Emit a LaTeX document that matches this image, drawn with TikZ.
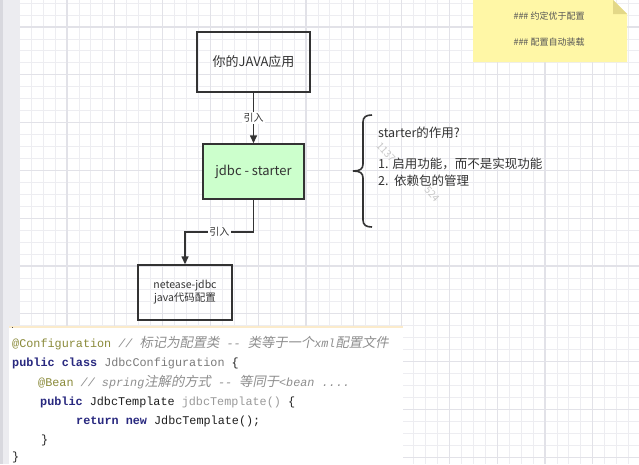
\documentclass[tikz,border=0pt]{standalone}
\usepackage{fontspec}
\setmainfont{Noto Sans CJK SC}
\newfontfamily\codefont{Liberation Mono}
\newfontfamily\cjkit[FakeSlant=0.2]{Noto Sans CJK SC}
\usetikzlibrary{arrows.meta}
\definecolor{gridminor}{HTML}{EDEDF1}
\definecolor{gridmajor}{HTML}{E2E2E8}
\definecolor{strip}{HTML}{ECECF0}
\definecolor{stripdark}{HTML}{D8D8DE}
\definecolor{boxline}{HTML}{333333}
\definecolor{txt}{HTML}{333333}
\definecolor{greenfill}{HTML}{CCFFCC}
\definecolor{notefill}{HTML}{FFF7A6}
\definecolor{notefold}{HTML}{E3D888}
\definecolor{notetxt}{HTML}{555555}
\definecolor{kwc}{HTML}{28287F}
\definecolor{annc}{HTML}{8A8A3A}
\definecolor{cmc}{HTML}{8E8E8E}
\definecolor{idc}{HTML}{7A7A7A}
\definecolor{gry}{HTML}{9A9A9A}
\definecolor{codebg}{HTML}{FFFFFF}
\definecolor{codetop}{HTML}{FBEBCB}
\newcommand\kw[1]{{\color{kwc}\bfseries #1}}
\newcommand\ann[1]{{\color{annc}#1}}
\newcommand\cm[1]{{\color{cmc}\itshape #1}}
\newcommand\cz[1]{{\cjkit\fontsize{13.3}{14}\selectfont #1}}
\tikzset{
  box/.style={draw=boxline, line width=1.4pt, text=txt, font=\fontsize{13}{15}\selectfont, inner sep=2pt},
  arr/.style={draw=boxline, line width=1.4pt, -{Triangle[length=8pt,width=7pt]}},
  plain/.style={draw=boxline, line width=1.4pt},
  lbl/.style={fill=white, text=txt, font=\fontsize{10}{12}\selectfont, inner sep=1.5pt},
  code/.style={anchor=west, inner sep=0pt, font=\codefont\fontsize{11.8}{13}\selectfont, text=black!88},
  side/.style={anchor=west, inner sep=0pt, text=txt, font=\fontsize{12.5}{14}\selectfont},
  notetext/.style={text=notetxt, font=\fontsize{9}{11}\selectfont, inner sep=0pt},
  wm/.style={text=black!22, font=\fontsize{10}{11}\selectfont, inner sep=0pt, rotate=-48}
}
\begin{document}
\begin{tikzpicture}[x=1pt,y=-1pt]
\useasboundingbox (0,0) rectangle (639,464);
\fill[white] (0,0) rectangle (639,464);
% left strip
\fill[strip] (0,0) rectangle (20,464);
\fill[stripdark] (0,0) rectangle (3,464);
% grid
\foreach \i in {-4,...,48} {
  \pgfmathsetmacro\gx{67+11.95*\i}
  \ifdim\gx pt>20pt \ifdim\gx pt<639pt
    \draw[gridminor, line width=0.9pt] (\gx,0) -- (\gx,464);
  \fi\fi
}
\foreach \i in {-2,...,37} {
  \pgfmathsetmacro\gy{27+11.95*\i}
  \ifdim\gy pt>0pt \ifdim\gy pt<464pt
    \draw[gridminor, line width=0.9pt] (20,\gy) -- (639,\gy);
  \fi\fi
}
\foreach \i in {-1,...,12} {
  \pgfmathsetmacro\gx{67+47.8*\i}
  \ifdim\gx pt>20pt \ifdim\gx pt<639pt
    \draw[gridmajor, line width=1.1pt] (\gx,0) -- (\gx,464);
  \fi\fi
}
\foreach \i in {0,...,9} {
  \pgfmathsetmacro\gy{27+47.8*\i}
  \ifdim\gy pt<464pt
    \draw[gridmajor, line width=1.1pt] (20,\gy) -- (639,\gy);
  \fi
}
% sticky note
\fill[notefill] (473,0) -- (613,0) -- (627,14) -- (627,62) -- (473,62) -- cycle;
\fill[notefold] (613,0) -- (627,14) -- (613,14) -- cycle;
\node[notetext] (n1) at (549,16) {\#\#\# 约定优于配置};
\node[notetext] (n2) at (549,42) {\#\#\# 配置自动装载};
% boxes
\node[box, minimum width=113pt, minimum height=60pt] (app) at (253.5,62) {你的JAVA应用};
\node[box, fill=greenfill, minimum width=101pt, minimum height=55pt] (starter) at (253.5,171.5) {jdbc - starter};
\node[box, minimum width=94pt, minimum height=55pt, align=center, font=\fontsize{10.5}{13}\selectfont] (netease) at (185,292.5) {netease-jdbc\\java代码配置};
% connectors
\draw[arr] (app.south) -- node[lbl] {引入} (starter.north);
\coordinate (b1) at (253.5,232);
\coordinate (b2) at (185,232);
\draw[arr] (starter.south) -- (b1) -- node[lbl] {引入} (b2) -- (netease.north);
% brace
\draw[plain, line width=1.6pt] (372,115) .. controls (366,115) and (363,117) .. (363,122) -- (363,164)
  .. controls (363,169) and (360,171) .. (353,171)
  .. controls (360,171) and (363,173) .. (363,178) -- (363,220)
  .. controls (363,225) and (366,227) .. (372,227);
\node[wm] (w1) at (386,152) {1137};
\node[wm] (w2) at (432,194) {524};
\node[side] (s1) at (378,133) {starter的作用?};
\node[side] (s2) at (378,164) {1. 启用功能，而不是实现功能};
\node[side] (s3) at (378,181) {2.\ \ 依赖包的管理};
% code panel
\fill[codebg] (9,326) rectangle (403,464);
\fill[codetop] (9,325.5) rectangle (403,328);
\fill[black!70] (11.5,326.5) rectangle (13,328);
\node[code] (c1) at (12,343) {\ann{@Configuration} \cm{// \cz{标记为配置类} -- \cz{类等于一个}xml\cz{配置文件}}};
\node[code] (c2) at (12,363) {\kw{public class} {\color{idc}JdbcConfiguration} \{};
\node[code] (c3) at (38,382) {\ann{@Bean} \cm{// spring\cz{注解的方式} -- \cz{等同于}<bean ....}};
\node[code] (c4) at (40,402) {\kw{public} JdbcTemplate {\color{gry}jdbcTemplate()} \{};
\node[code] (c5) at (76,421) {\kw{return new} JdbcTemplate();};
\node[code] (c6) at (41,440) {\}};
\node[code] (c7) at (12,457) {\}};
\end{tikzpicture}
\end{document}
